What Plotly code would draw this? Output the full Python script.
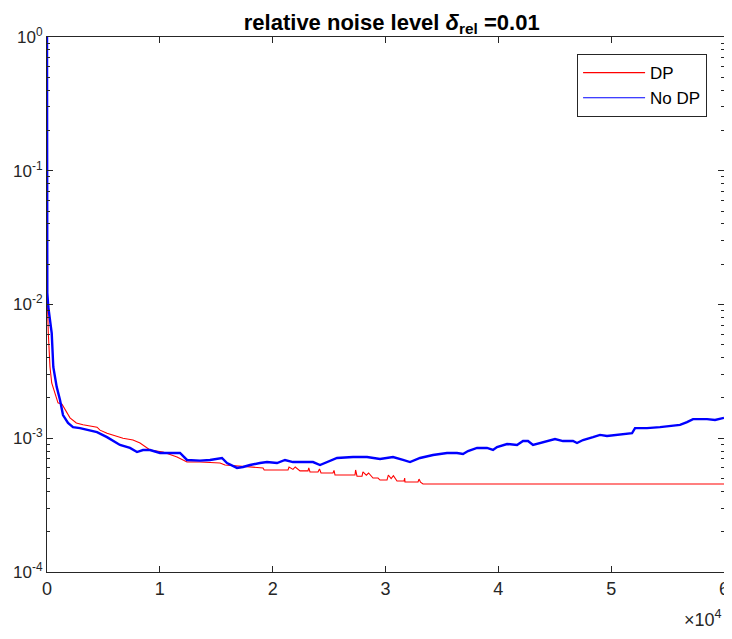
import plotly.graph_objects as go

# iteration number and relative error
dp_iter = [0, 15, 30, 115, 266, 417, 709, 975, 1329, 1595, 2038, 2600, 3191, 4432,
           4697, 5318, 6736, 7622, 8243, 9129, 10281, 11522, 12408, 13560, 15333,
           15776, 17106, 17371, 19144, 19250, 21360, 21450, 21800, 22000, 22423,
           23132, 23200, 23310, 24018, 24150, 24285, 25348, 25437, 25525, 27298,
           27350, 27475, 27918, 28000, 28300, 28500, 28893, 29336, 29514, 30134,
           30250, 30500, 30700, 31020, 31641, 31700, 31730, 32882, 32970, 33100,
           33325, 60000]
dp_err = [1.0, 0.05, 0.0108, 0.00612, 0.00341, 0.00259, 0.00218, 0.00184, 0.0018,
          0.00163, 0.00142, 0.0013, 0.00126, 0.00121, 0.00115, 0.00109, 0.00100,
          0.00097, 0.000921, 0.000817, 0.000789, 0.000724, 0.000664, 0.000664,
          0.000653, 0.000631, 0.00062, 0.00061, 0.0006, 0.000579, 0.000579, 0.00061,
          0.000585, 0.00061, 0.00057, 0.00057, 0.0006, 0.00056, 0.00056, 0.00059,
          0.00055, 0.00055, 0.000575, 0.000531, 0.000531, 0.000579, 0.00052,
          0.00052, 0.00056, 0.00053, 0.00055, 0.000504, 0.000504, 0.000487,
          0.000487, 0.000531, 0.0005, 0.000525, 0.000479, 0.000479, 0.000504,
          0.000471, 0.000471, 0.000495, 0.00047, 0.000455, 0.000455]

nodp_iter = [0, 27, 115, 266, 417, 558, 860, 1153, 1418, 1861, 2304, 2925, 3545,
             4432, 5318, 6470, 7356, 7977, 8508, 9129, 10015, 11167, 11788, 12408,
             13560, 14447, 15510, 15953, 16840, 17371, 17992, 18878, 19499, 20385,
             21094, 21803, 22689, 23576, 24196, 24816, 25703, 27120, 28362, 29514,
             30666, 31552, 32173, 33059, 34211, 35452, 36338, 36870, 37313, 38111,
             38997, 39529, 39884, 40770, 41656, 42188, 42631, 43074, 43694, 44580,
             45023, 45733, 46619, 46973, 47505, 48391, 49012, 49632, 50518, 51404,
             51848, 52114, 53177, 54329, 55216, 56102, 56722, 57255, 58496, 59205,
             60000]
nodp_err = [1.0, 0.0122, 0.00958, 0.00766, 0.00612, 0.00341, 0.00242, 0.00193,
            0.00149, 0.0013, 0.00121, 0.00119, 0.00115, 0.00111, 0.00102, 0.000891,
            0.000846, 0.000789, 0.000817, 0.000817, 0.000776, 0.000776, 0.000776,
            0.000688, 0.00068, 0.000688, 0.000712, 0.000653, 0.0006, 0.00061,
            0.000631, 0.000653, 0.000664, 0.000653, 0.000688, 0.000664, 0.000664,
            0.000664, 0.000631, 0.000664, 0.000712, 0.000724, 0.000724, 0.0007,
            0.000724, 0.000688, 0.000664, 0.000712, 0.00075, 0.000776, 0.000776,
            0.000763, 0.000803, 0.000846, 0.000846, 0.000817, 0.00086, 0.000906,
            0.000891, 0.000953, 0.000953, 0.000891, 0.000921, 0.000953, 0.000987,
            0.000953, 0.000953, 0.000921, 0.00097, 0.00102, 0.00106, 0.00104,
            0.00106, 0.00109, 0.00109, 0.00119, 0.00119, 0.00121, 0.00124, 0.00126,
            0.00132, 0.00139, 0.00139, 0.00137, 0.00142]

x_ticks = [0, 10000, 20000, 30000, 40000, 50000, 60000]
x_labels = ["0", "1", "2", "3", "4", "5", "6"]
y_ticks = [1e-4, 1e-3, 1e-2, 1e-1, 1e0]
y_labels = ["10<sup>-4</sup>", "10<sup>-3</sup>", "10<sup>-2</sup>",
            "10<sup>-1</sup>", "10<sup>0</sup>"]

minor_y = [m * 10.0 ** e for e in range(-4, 0) for m in range(2, 10)]

fig = go.Figure()
fig.add_trace(go.Scatter(x=dp_iter, y=dp_err, mode="lines", name="DP",
                         line=dict(color="#ff0000", width=1.1)))
fig.add_trace(go.Scatter(x=nodp_iter, y=nodp_err, mode="lines", name="No DP",
                         showlegend=False, line=dict(color="#0000ff", width=2.4)))
# thin line for the legend sample, like the original
fig.add_trace(go.Scatter(x=[None], y=[None], mode="lines", name="No DP",
                         line=dict(color="#0000ff", width=1.1)))

# the page adds an 8px body margin, so the figure is 8px smaller than the window
axis_col = "#262626"
fig.update_layout(
    width=724, height=631,
    margin=dict(l=39, r=8, t=29, b=67),
    paper_bgcolor="white", plot_bgcolor="white",
    font=dict(family="Liberation Sans, Arial", size=16, color=axis_col),
    title=dict(text="<b>relative noise level <i>δ</i><sub>rel</sub> =0.01</b>",
               x=0.53, xanchor="center", y=0.99, yanchor="top",
               font=dict(size=22, color="black")),
    showlegend=True,
    legend=dict(x=0.975, xanchor="right", y=0.968, yanchor="top",
                bordercolor=axis_col, borderwidth=1, bgcolor="white",
                itemwidth=62, font=dict(size=17, color="black"), tracegroupgap=0),
)
fig.update_xaxes(
    range=[0, 60000], tickvals=x_ticks, ticktext=x_labels,
    ticks="inside", ticklen=6, tickcolor=axis_col, automargin=False,
    tickfont=dict(size=18),
    showline=True, linecolor=axis_col, linewidth=1, mirror="ticks",
    showgrid=False, zeroline=False,
)
fig.update_yaxes(
    type="log", range=[-4, 0], tickvals=y_ticks, ticktext=y_labels,
    ticks="inside", ticklen=6, tickcolor=axis_col, automargin=False,
    tickfont=dict(size=17),
    minor=dict(tickvals=minor_y, ticks="inside", ticklen=3, tickcolor=axis_col),
    showline=True, linecolor=axis_col, linewidth=1, mirror="ticks",
    showgrid=False, zeroline=False,
)
fig.add_annotation(text="×10<sup>4</sup>", xref="paper", yref="paper",
                   x=1.0, y=-0.062, xanchor="right", yanchor="top",
                   showarrow=False, font=dict(size=18, color=axis_col))

fig.write_html("out.html")
